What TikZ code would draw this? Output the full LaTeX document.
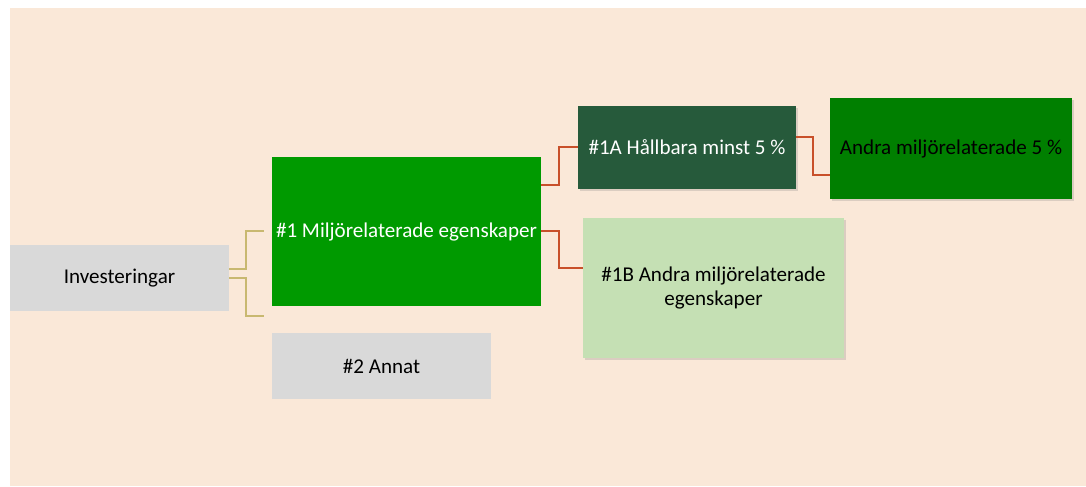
\documentclass[tikz,border=0pt]{standalone}
\usepackage{fontspec}
\setmainfont{Carlito}
\usetikzlibrary{shadows}
\definecolor{bgbeige}{HTML}{FAE8D8}
\definecolor{boxgray}{HTML}{D9D9D9}
\definecolor{midgreen}{HTML}{009A00}
\definecolor{darkgreen}{HTML}{265A3B}
\definecolor{deepgreen}{HTML}{007F00}
\definecolor{lightgreen}{HTML}{C5E0B4}
\definecolor{tanline}{HTML}{C8B870}
\definecolor{redline}{HTML}{C8502A}

\begin{document}
\begin{tikzpicture}[x=0.75pt, y=-0.75pt,
        box/.style={rectangle, inner sep=2pt, align=center, font=\fontsize{15.8}{17.3}\selectfont},
        shadowed/.style={drop shadow={opacity=0.25, shadow xshift=1.5pt, shadow yshift=-1.5pt}},
        tanconn/.style={draw=tanline, line width=1pt},
        redconn/.style={draw=redline, line width=1.3pt}]
        \useasboundingbox (0,0) rectangle (1086,486);
        \fill[bgbeige] (10,8) rectangle (1086,486);

        % boxes
        \node[box, fill=boxgray, minimum width=164.25pt, minimum height=49.5pt] (inv) at (119.5,278) {Investeringar};
        \node[box, fill=midgreen, text=white, minimum width=201.75pt, minimum height=111.75pt] (env) at (406.5,231.5) {\#1 Miljörelaterade egenskaper};
        \node[box, fill=boxgray, minimum width=164.25pt, minimum height=49.5pt] (other) at (381.5,366) {\#2 Annat};
        \node[box, shadowed, fill=darkgreen, text=white, minimum width=163.5pt, minimum height=62.25pt] (sust) at (687,147.5) {\#1A Hållbara minst 5 \%};
        \node[box, shadowed, fill=deepgreen, minimum width=181.5pt, minimum height=75.75pt] (rest) at (951,148.5) {Andra miljörelaterade 5 \%};
        \node[box, shadowed, fill=lightgreen, minimum width=195.75pt, minimum height=105pt] (envb) at (713.5,288) {\#1B Andra miljörelaterade\\egenskaper};

        % free ends
        \coordinate (upend) at (264,231);
        \coordinate (downend) at (264,316);

        % connectors
        \draw[tanconn] (inv.east |- 0,269) -| (246,231) -- (upend);
        \draw[tanconn] (inv.east |- 0,278) -| (246,316) -- (downend);
        \draw[redconn] (env.east |- 0,185) -| (559,147) -- (sust.west |- 0,147);
        \draw[redconn] (env.east |- 0,231) -| (559,268) -- (envb.west |- 0,268);
        \draw[redconn] (sust.east |- 0,137) -| (813,175) -- (rest.west |- 0,175);
    \end{tikzpicture}
\end{document}
